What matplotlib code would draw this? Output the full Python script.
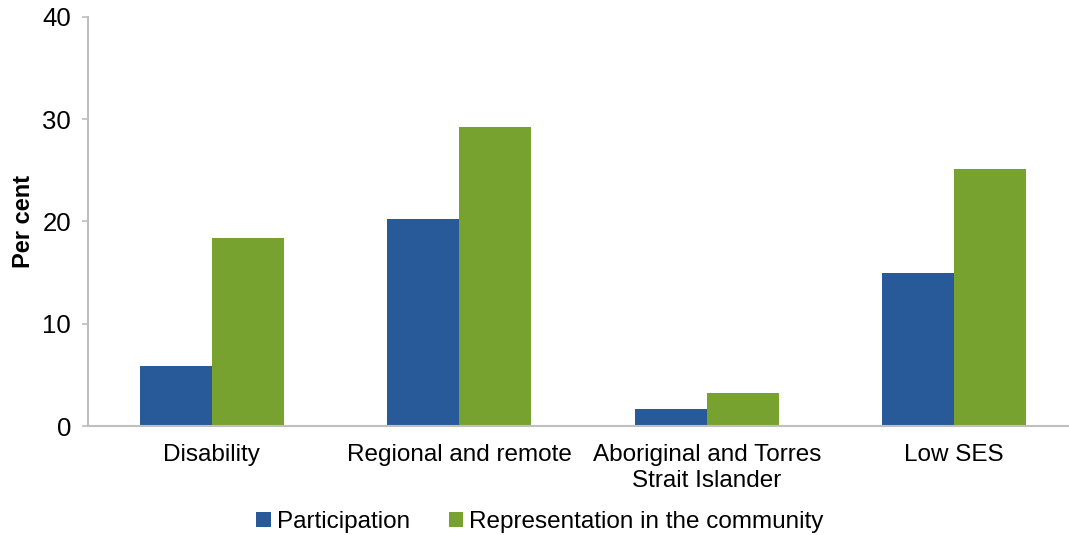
import matplotlib
matplotlib.use("Agg")
import matplotlib.pyplot as plt
import numpy as np

categories = ["Disability", "Regional and remote", "Aboriginal and Torres\nStrait Islander", "Low SES"]
participation = [5.9, 20.2, 1.7, 15.0]
representation = [18.4, 29.2, 3.2, 25.1]
series_names = ["Participation", "Representation in the community"]
yticks = [0, 10, 20, 30, 40]

plt.rcParams['font.family'] = ['Liberation Sans', 'DejaVu Sans']

fig = plt.figure(figsize=(10.69, 5.35), dpi=100)
ax = fig.add_axes([88/1069, 1-426/535, (1078-88)/1069, (426-17)/535])

x = np.arange(len(categories))
w = 0.29
ax.bar(x - w/2, participation, w, color="#285A99", label=series_names[0])
ax.bar(x + w/2, representation, w, color="#78A22F", label=series_names[1])

ax.set_xlim(-0.5, len(categories) - 0.5)
ax.set_ylim(0, 40)
ax.set_yticks(yticks)
ax.set_xticks(x)
ax.set_xticklabels(categories, fontsize=17.5, linespacing=1.25)
ax.tick_params(axis='y', labelsize=18.5, length=4.3, color="#BFBFBF", width=1.2, pad=8)
ax.tick_params(axis='x', length=0, pad=13)
for s in ["top", "right"]:
    ax.spines[s].set_visible(False)
for s in ["left", "bottom"]:
    ax.spines[s].set_color("#BFBFBF")
    ax.spines[s].set_linewidth(1.5)
ax.set_ylabel("Per cent", fontsize=17, fontweight="bold", labelpad=5)

fig.legend(loc="center", bbox_to_anchor=(540/1069, 1-522/535), ncol=2, frameon=False,
           fontsize=17.5, handlelength=0.6, handleheight=0.6, handletextpad=0.25, columnspacing=1.6,
           borderaxespad=0, borderpad=0)

fig.savefig("out.png", dpi=100)
